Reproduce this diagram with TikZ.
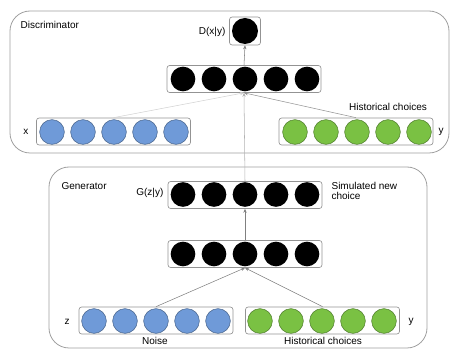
\documentclass[tikz,border=0pt]{standalone}
\usepackage{fontspec}
\setmainfont{Liberation Sans}
\usetikzlibrary{positioning,arrows.meta}

\definecolor{inblue}{RGB}{111,154,216}
\definecolor{ingreen}{RGB}{122,193,67}

\tikzset{
  panel/.style={draw=gray!75, line width=0.6pt, rounded corners=15pt},
  layer/.style={draw=gray!85, line width=0.5pt, rounded corners=2pt, minimum width=115.5pt, minimum height=20.25pt, inner sep=0pt},
  unit/.style={circle, minimum size=18.5pt, inner sep=0pt},
  hid/.style={unit, fill=black},
  xin/.style={unit, fill=inblue, draw=inblue!65!black, line width=0.4pt},
  yin/.style={unit, fill=ingreen, draw=ingreen!65!black, line width=0.4pt},
  lbl/.style={font=\fontsize{7.5}{8.5}\selectfont, inner sep=1pt},
  link/.style={draw=gray, line width=0.4pt, -{Stealth[length=3pt,width=2.5pt]}}
}

\begin{document}
\begin{tikzpicture}[x=0.75pt, y=-0.75pt]
    \useasboundingbox (0,0) rectangle (451,349);

    % Discriminator panel
    \draw[panel] (10,11) rectangle (449,153);
    \node[lbl, anchor=west] (dlabel) at (19,25) {Discriminator};

    \node[layer, minimum width=23.25pt, minimum height=21pt] (dout) at (245,31) {};
    \node[hid, minimum size=19.5pt] (doutc) at (245,31) {};
    \node[lbl, anchor=east] (dtext) at (227,32) {D(x|y)};

    \node[layer] (dhid) at (244,79) {};
    \foreach \i in {1,...,5}
        \node[hid] (dh\i) at (152+31*\i,79) {};

    \node[layer] (xrow) at (113.5,131.5) {};
    \foreach \i in {1,...,5}
        \node[xin] (x\i) at (21+31*\i,132) {};
    \node[lbl] (xtext) at (26,132) {x};

    \node[layer] (yrow) at (356,131.5) {};
    \foreach \i in {1,...,5}
        \node[yin] (y\i) at (264+31*\i,132) {};
    \node[lbl] (ytext) at (441,132) {y};
    \node[lbl] (dhist) at (388,107) {Historical choices};

    % Generator panel
    \draw[panel] (49,167) rectangle (427,348);
    \node[lbl, anchor=west] (glabel) at (60,186) {Generator};

    \node[layer] (grow) at (245,195) {};
    \foreach \i in {1,...,5}
        \node[hid] (g\i) at (152+31*\i,194.5) {};
    \node[lbl, anchor=east] (gtext) at (165,193) {G(z|y)};
    \node[lbl, anchor=north west, align=left] (simtext) at (330,181) {Simulated new\\[-1pt]choice};

    \node[layer] (ghid) at (245,254) {};
    \foreach \i in {1,...,5}
        \node[hid] (gh\i) at (152+31*\i,254) {};

    \node[layer] (zrow) at (156,320.5) {};
    \foreach \i in {1,...,5}
        \node[xin] (z\i) at (63+31*\i,321) {};
    \node[lbl] (ztext) at (67,322) {z};
    \node[lbl] (noise) at (155,341) {Noise};

    \node[layer] (gyrow) at (322.5,320.5) {};
    \foreach \i in {1,...,5}
        \node[yin] (gy\i) at (229+31*\i,321) {};
    \node[lbl] (gytext) at (411,322) {y};
    \node[lbl] (ghist) at (323,341) {Historical choices};

    % connections
    \draw[link, draw=gray!35] (xrow.north) -- (dhid.south);
    \draw[link, draw=gray!85] (yrow.north) -- (dhid.south);
    \draw[link, draw=gray!60] (grow.north) -- (dhid.south);
    \draw[link] (dhid.north) -- (dout.south);

    \draw[link] (zrow.north) -- (ghid.south);
    \draw[link] (gyrow.north) -- (ghid.south);
    \draw[link] (ghid.north) -- (grow.south);
\end{tikzpicture}
\end{document}
